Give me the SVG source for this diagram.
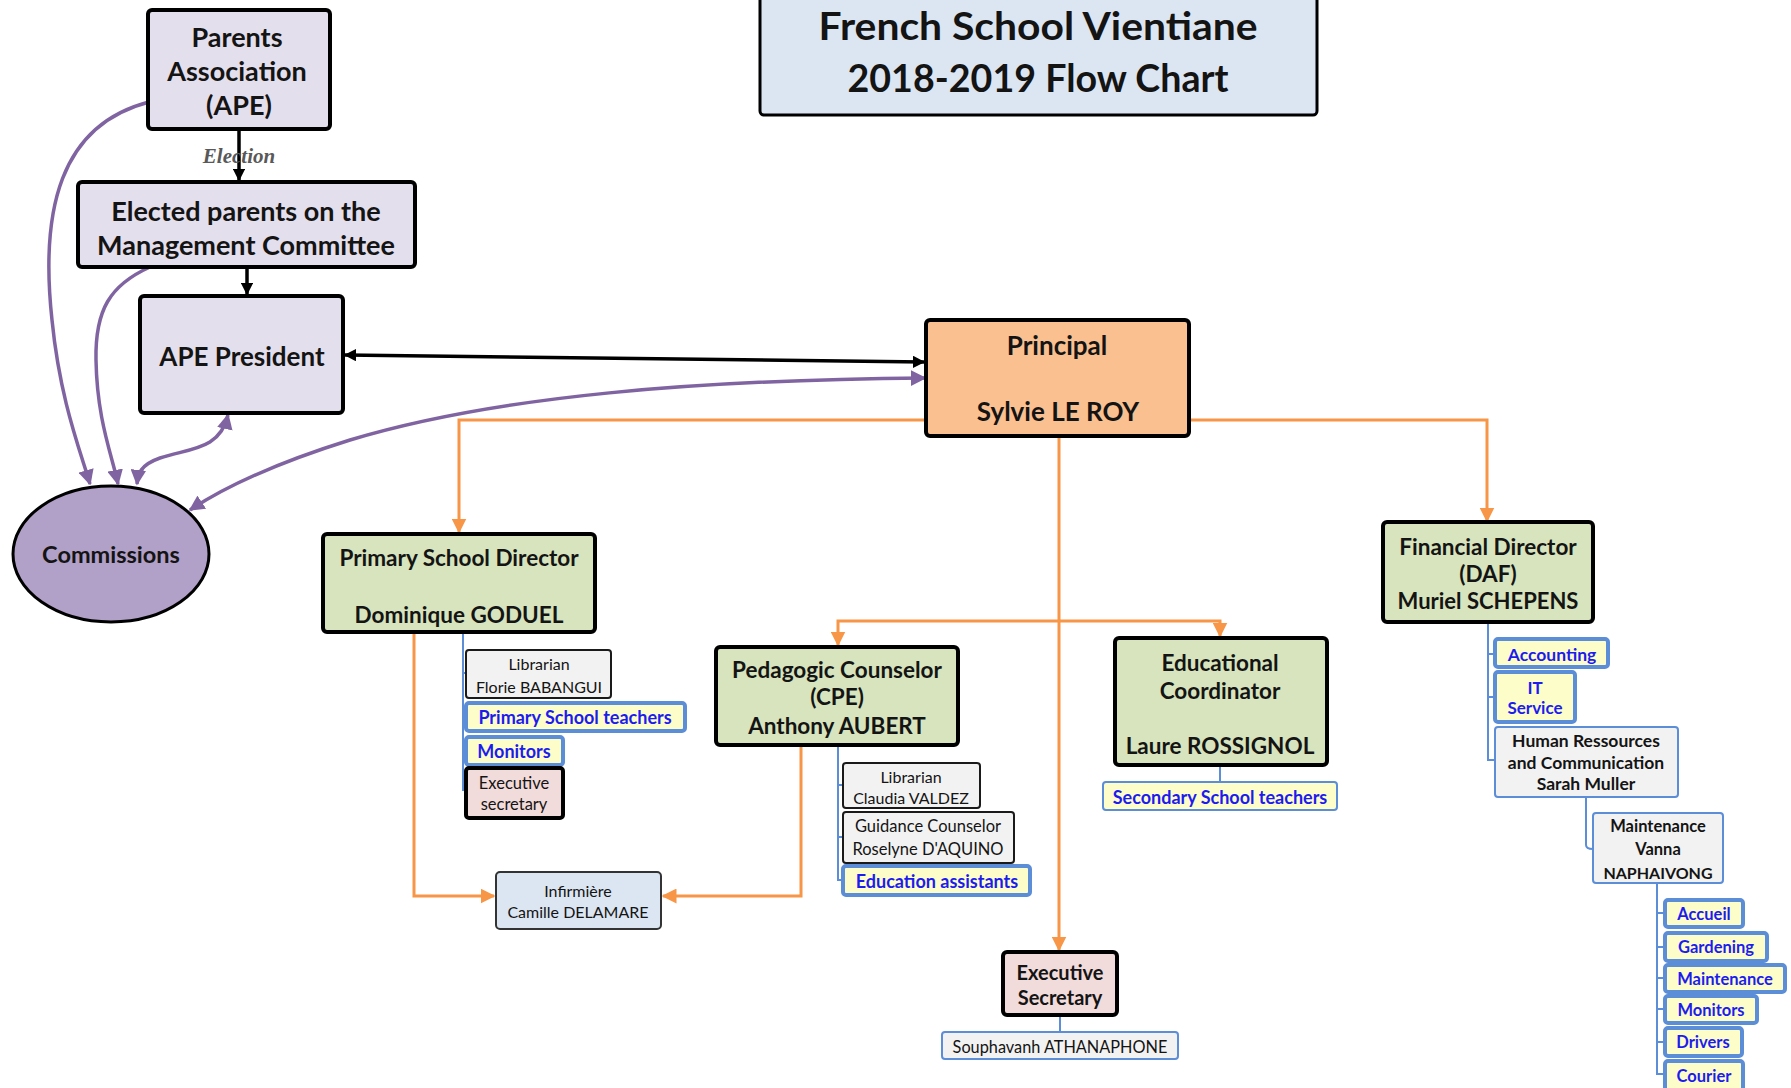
<svg xmlns="http://www.w3.org/2000/svg" width="1791" height="1088" viewBox="0 0 1791 1088">
<defs>
<style>
text{font-family:Lato,"Liberation Sans",sans-serif;text-anchor:middle;fill:#141414;dominant-baseline:central}
.b{font-weight:bold}
.bl{fill:#1c1cf0;font-weight:bold}
.main{stroke:#000;stroke-width:4}
.thin{stroke:#1a1a1a;stroke-width:2}
.blt{stroke:#5b8ed6;stroke-width:2}
.blk{stroke:#5b8ed6;stroke-width:4}
.lav{fill:#e4dfec}.peach{fill:#fac090}.green{fill:#d7e4bd}.pink{fill:#f2dcdb}.lblue{fill:#dce6f2}.gray{fill:#f2f2f2}.yel{fill:#fdfdc9}
.ck{fill:none;stroke:#000;stroke-width:3.5}
.co{fill:none;stroke:#f79646;stroke-width:3}
.cp{fill:none;stroke:#8064a2;stroke-width:3.5}
.cb{fill:none;stroke:#5b8ed6;stroke-width:2}
</style>
<marker id="ak" viewBox="0 0 10 10" refX="9" refY="5" markerWidth="3.5" markerHeight="3.5" orient="auto-start-reverse"><path d="M0,0L10,5L0,10z" fill="#000"/></marker>
<marker id="ao" viewBox="0 0 10 10" refX="9" refY="5" markerWidth="5" markerHeight="5" orient="auto-start-reverse"><path d="M0,0L10,5L0,10z" fill="#f79646"/></marker>
<marker id="ap" viewBox="0 0 10 10" refX="9" refY="5" markerWidth="4.5" markerHeight="4.5" orient="auto-start-reverse"><path d="M0,0L10,5L0,10z" fill="#8064a2"/></marker>
</defs>
<rect width="1791" height="1088" fill="#fff"/>

<g id="connectors">
<path class="ck" d="M239,129V180" marker-end="url(#ak)"/>
<path class="ck" d="M247,267V294" marker-end="url(#ak)"/>
<path class="ck" d="M345,355L924,362" marker-start="url(#ak)" marker-end="url(#ak)"/>
<path class="co" d="M926,420H459V532" marker-end="url(#ao)"/>
<path class="co" d="M1189,420H1487V521" marker-end="url(#ao)"/>
<path class="co" d="M1059,437V950" marker-end="url(#ao)"/>
<path class="co" d="M1059,621H838V645" marker-end="url(#ao)"/>
<path class="co" d="M1059,621H1220V636" marker-end="url(#ao)"/>
<path class="co" d="M414,632V896H494" marker-end="url(#ao)"/>
<path class="co" d="M801,745V896H663" marker-end="url(#ao)"/>
<path class="cb" d="M463,632V790H466M463,673H466M463,717H466M463,751H466"/>
<path class="cb" d="M838,745V880H843M838,785H843M838,837H843"/>
<path class="cb" d="M1220,765V782"/>
<path class="cb" d="M1060,1015V1032"/>
<path class="cb" d="M1488,623V760H1495M1488,654H1495M1488,697H1495"/>
<path class="cb" d="M1586,797V845Q1586,849 1593,849"/>
<path class="cb" d="M1657,883V1074H1665M1657,913H1665M1657,947H1665M1657,978H1665M1657,1009H1665M1657,1042H1665"/>
<path class="cp" d="M149,102C60,125 40,210 52,320C60,400 80,450 90,484" marker-end="url(#ap)"/>
<path class="cp" d="M150,267C110,285 95,310 96,360C97,420 112,455 118,484" marker-end="url(#ap)"/>
<path class="cp" d="M228,415C220,450 190,448 160,458C140,465 138,474 137,484" marker-start="url(#ap)" marker-end="url(#ap)"/>
<path class="cp" d="M925,378C700,380 500,395 350,440C270,465 220,490 190,510" marker-start="url(#ap)" marker-end="url(#ap)"/>
<text x="239" y="156" style="font-family:'Liberation Serif',serif;font-style:italic;font-weight:bold;font-size:21px;fill:#595959">Election</text>
</g>

<g id="title"><rect x="760" y="-5" width="557" height="120" rx="4" class="lblue" stroke="#000" stroke-width="3"/>
<text x="1038" y="25" class="b" font-size="39" textLength="439" lengthAdjust="spacingAndGlyphs">French School Vientiane</text>
<text x="1038" y="77" class="b" font-size="39" textLength="381" lengthAdjust="spacingAndGlyphs">2018-2019 Flow Chart</text></g>

<g id="parents"><rect x="148" y="10" width="182" height="119" rx="4" class="main lav"/>
<text x="237" y="36" class="b" font-size="27">Parents</text>
<text x="237" y="70" class="b" font-size="27">Association</text>
<text x="239" y="104" class="b" font-size="27">(APE)</text></g>

<g id="elected"><rect x="78" y="182" width="337" height="85" rx="4" class="main lav"/>
<text x="246" y="210" class="b" font-size="27">Elected parents on the</text>
<text x="246" y="244" class="b" font-size="27">Management Committee</text></g>

<g id="president"><rect x="140" y="296" width="203" height="117" rx="4" class="main lav"/>
<text x="242" y="356" class="b" font-size="26">APE President</text></g>

<g id="commissions"><ellipse cx="111" cy="554" rx="98" ry="68" fill="#b1a0c7" stroke="#000" stroke-width="3"/>
<text x="111" y="554" class="b" font-size="23.5">Commissions</text></g>

<g id="principal"><rect x="926" y="320" width="263" height="116" rx="4" class="main peach"/>
<text x="1057" y="345" class="b" font-size="26">Principal</text>
<text x="1058" y="411" class="b" font-size="26">Sylvie LE ROY</text></g>

<g id="primary"><rect x="323" y="534" width="272" height="98" rx="4" class="main green"/>
<text x="459" y="557" class="b" font-size="22.5">Primary School Director</text>
<text x="459" y="614" class="b" font-size="22.5">Dominique GODUEL</text></g>

<g id="librarian1"><rect x="466" y="650" width="145" height="48" rx="3" class="thin gray"/>
<text x="539" y="663" font-size="16">Librarian</text>
<text x="539" y="686" font-size="16">Florie BABANGUI</text></g>
<g id="primaryteachers"><rect x="466" y="703" width="219" height="28" rx="3" class="blk yel"/>
<text x="575" y="717" class="bl" font-size="18">Primary School teachers</text></g>
<g id="monitors1"><rect x="466" y="737" width="97" height="28" rx="3" class="blk yel"/>
<text x="514" y="751" class="bl" font-size="18">Monitors</text></g>
<g id="execsec1"><rect x="466" y="768" width="97" height="50" rx="3" class="main pink"/>
<text x="514" y="783" font-size="16.5">Executive</text>
<text x="514" y="804" font-size="16.5">secretary</text></g>

<g id="infirmiere"><rect x="496" y="872" width="165" height="57" rx="4" class="lblue" stroke="#333" stroke-width="2"/>
<text x="578" y="890" font-size="16">Infirmière</text>
<text x="578" y="911" font-size="16">Camille DELAMARE</text></g>

<g id="pedagogic"><rect x="716" y="647" width="242" height="98" rx="4" class="main green"/>
<text x="837" y="669" class="b" font-size="22.5">Pedagogic Counselor</text>
<text x="837" y="696" class="b" font-size="22.5">(CPE)</text>
<text x="837" y="725" class="b" font-size="22.5">Anthony AUBERT</text></g>

<g id="librarian2"><rect x="843" y="763" width="137" height="45" rx="3" class="thin gray"/>
<text x="911" y="776" font-size="16">Librarian</text>
<text x="911" y="797" font-size="16">Claudia VALDEZ</text></g>
<g id="guidance"><rect x="843" y="812" width="171" height="51" rx="3" class="thin gray"/>
<text x="928" y="826" font-size="16.5">Guidance Counselor</text>
<text x="928" y="849" font-size="16.5">Roselyne D'AQUINO</text></g>
<g id="eduassist"><rect x="843" y="866" width="187" height="29" rx="3" class="blk yel"/>
<text x="937" y="881" class="bl" font-size="18">Education assistants</text></g>

<g id="educational"><rect x="1115" y="638" width="212" height="127" rx="4" class="main green"/>
<text x="1220" y="662" class="b" font-size="22.5">Educational</text>
<text x="1220" y="690" class="b" font-size="22.5">Coordinator</text>
<text x="1220" y="745" class="b" font-size="22.5">Laure ROSSIGNOL</text></g>
<g id="secondary"><rect x="1103" y="782" width="234" height="28" rx="3" class="blt yel"/>
<text x="1220" y="797" class="bl" font-size="18">Secondary School teachers</text></g>

<g id="execsec"><rect x="1003" y="952" width="114" height="63" rx="4" class="main pink"/>
<text x="1060" y="972" class="b" font-size="20">Executive</text>
<text x="1060" y="997" class="b" font-size="20">Secretary</text></g>
<g id="souphavanh"><rect x="942" y="1032" width="236" height="27" rx="3" class="blt gray"/>
<text x="1060" y="1046" font-size="16.3">Souphavanh ATHANAPHONE</text></g>

<g id="financial"><rect x="1383" y="522" width="210" height="100" rx="4" class="main green"/>
<text x="1488" y="546" class="b" font-size="22.5">Financial Director</text>
<text x="1488" y="573" class="b" font-size="22.5">(DAF)</text>
<text x="1488" y="600" class="b" font-size="22">Muriel SCHEPENS</text></g>
<g id="accounting"><rect x="1495" y="639" width="113" height="28" rx="3" class="blk yel"/>
<text x="1552" y="654" class="bl" font-size="17.5">Accounting</text></g>
<g id="itservice"><rect x="1495" y="672" width="80" height="50" rx="3" class="blk yel"/>
<text x="1535" y="687" class="bl" font-size="17">IT</text>
<text x="1535" y="707" class="bl" font-size="17">Service</text></g>
<g id="hr"><rect x="1495" y="727" width="183" height="70" rx="3" class="blt gray"/>
<text x="1586" y="740" class="b" font-size="17.5">Human Ressources</text>
<text x="1586" y="762" class="b" font-size="17.5">and Communication</text>
<text x="1586" y="783" class="b" font-size="17.5">Sarah Muller</text></g>
<g id="maintenance"><rect x="1593" y="813" width="130" height="70" rx="3" class="blt gray"/>
<text x="1658" y="826" class="b" font-size="16.5">Maintenance</text>
<text x="1658" y="849" class="b" font-size="16.5">Vanna</text>
<text x="1658" y="872" class="b" font-size="16">NAPHAIVONG</text></g>
<g id="accueil"><rect x="1665" y="900" width="78" height="27" rx="3" class="blk yel"/><text x="1704" y="914" class="bl" font-size="16.5">Accueil</text></g>
<g id="gardening"><rect x="1665" y="933" width="102" height="28" rx="3" class="blk yel"/><text x="1716" y="947" class="bl" font-size="16.5">Gardening</text></g>
<g id="maint2"><rect x="1665" y="965" width="120" height="27" rx="3" class="blk yel"/><text x="1725" y="979" class="bl" font-size="16.5">Maintenance</text></g>
<g id="monitors2"><rect x="1665" y="996" width="92" height="27" rx="3" class="blk yel"/><text x="1711" y="1010" class="bl" font-size="16.5">Monitors</text></g>
<g id="drivers"><rect x="1665" y="1028" width="77" height="28" rx="3" class="blk yel"/><text x="1703" y="1042" class="bl" font-size="16.5">Drivers</text></g>
<g id="courier"><rect x="1665" y="1061" width="78" height="30" rx="3" class="blk yel"/><text x="1704" y="1076" class="bl" font-size="16.5">Courier</text></g>
</svg>
